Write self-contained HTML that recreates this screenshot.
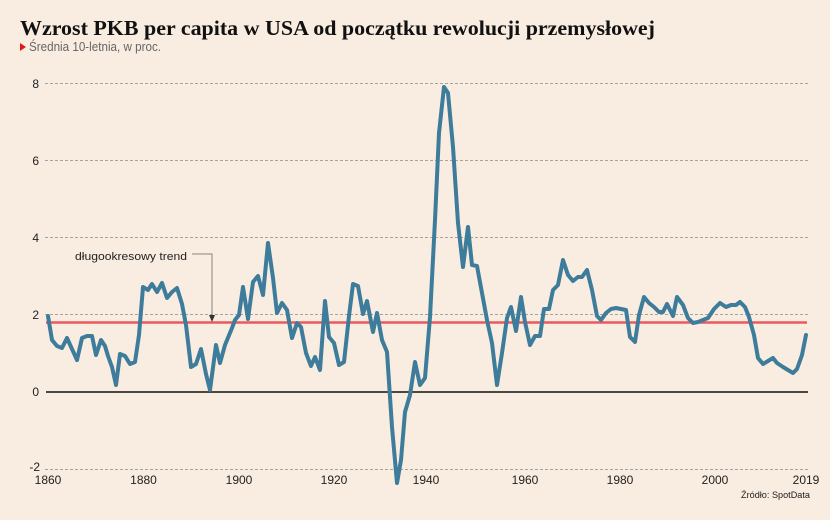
<!DOCTYPE html>
<html><head><meta charset="utf-8"><style>
html,body{margin:0;padding:0;background:#f9ece0;}
svg{display:block;}
</style></head><body>
<svg width="830" height="520" viewBox="0 0 830 520" xmlns="http://www.w3.org/2000/svg">
<rect x="0" y="0" width="830" height="520" fill="#f9ece0"/>
<text x="20" y="35" font-family="Liberation Serif, serif" font-weight="bold" font-size="21" fill="#111" textLength="635" lengthAdjust="spacingAndGlyphs">Wzrost PKB per capita w USA od początku rewolucji przemysłowej</text>
<polygon points="20,43 26,47 20,51" fill="#e3161b"/>
<text x="29" y="51" font-family="Liberation Sans, sans-serif" font-size="12.5" fill="#666" textLength="132" lengthAdjust="spacingAndGlyphs">Średnia 10-letnia, w proc.</text>
<g stroke="#a9a29b" stroke-width="1" stroke-dasharray="3,2" fill="none">
<line x1="45" y1="83.5" x2="809" y2="83.5"/>
<line x1="45" y1="160.5" x2="809" y2="160.5"/>
<line x1="45" y1="237.5" x2="809" y2="237.5"/>
<line x1="45" y1="314.5" x2="809" y2="314.5"/>
<line x1="45" y1="469.5" x2="809" y2="469.5"/>
</g>
<line x1="46" y1="392" x2="808" y2="392" stroke="#111" stroke-width="1.5"/>
<g font-family="Liberation Sans, sans-serif" font-size="12" fill="#222" text-anchor="end">
<text x="39" y="88">8</text>
<text x="39" y="165">6</text>
<text x="39" y="242">4</text>
<text x="39" y="319">2</text>
<text x="39" y="396">0</text>
<text x="40" y="471">-2</text>
</g>
<g font-family="Liberation Sans, sans-serif" font-size="12" fill="#222" text-anchor="middle">
<text x="48" y="484">1860</text>
<text x="143.5" y="484">1880</text>
<text x="239" y="484">1900</text>
<text x="334" y="484">1920</text>
<text x="426" y="484">1940</text>
<text x="525" y="484">1960</text>
<text x="620" y="484">1980</text>
<text x="715" y="484">2000</text>
<text x="806" y="484">2019</text>
</g>
<text x="810" y="498" font-family="Liberation Sans, sans-serif" font-size="9" fill="#222" text-anchor="end" textLength="69" lengthAdjust="spacingAndGlyphs">Źródło: SpotData</text>
<line x1="46" y1="322.5" x2="807" y2="322.5" stroke="#ea5a5e" stroke-width="2.5"/>
<text x="75" y="260" font-family="Liberation Sans, sans-serif" font-size="11" fill="#222" textLength="112" lengthAdjust="spacingAndGlyphs">długookresowy trend</text>
<polyline points="192,254 212,254 212,316" fill="none" stroke="#8a8580" stroke-width="1"/>
<polygon points="209,315 215,315 212,322" fill="#333"/>
<polyline fill="none" stroke="#3d7c9a" stroke-width="4" stroke-linejoin="round" stroke-linecap="round" points="
48,316 52,340 57,346 62,348 67,338 72,349 77,360 82,338 87,336 92,336 96,355 101,340 105,346 108,356 112,367 116,385 120,354 125,356 130,364 135,362 139,335 143,287 148,290 152,284 157,292 162,283 167,298 172,292 177,288 182,304 186,325 191,367 196,364 201,349 206,374 210,390 216,345 220,363 225,345 232,328 235,320 239,315 243,287 248,319 253,282 258,276 263,295 268,243 273,278 277,313 282,303 287,310 292,338 297,323 301,327 306,353 311,366 315,357 320,370 325,301 329,337 334,343 339,365 344,362 349,316 353,284 358,286 363,314 367,301 373,332 377,313 382,340 387,352 392,427 397,483 401,460 405,412 410,395 415,362 420,385 425,378 430,317 435,220 439,133 444,87 448,93 453,147 458,223 463,267 468,227 472,265 477,266 482,293 487,320 492,343 497,385 502,353 507,318 511,307 516,331 521,297 525,322 530,345 535,336 540,336 544,309 549,309 553,290 558,285 563,260 568,275 573,281 578,277 582,277 587,270 592,290 597,316 601,320 606,313 611,309 616,308 621,309 626,310 630,337 635,342 639,315 644,297 649,303 654,307 659,312 663,312 667,304 673,316 677,297 683,305 688,318 693,323 698,322 703,320 708,318 714,309 720,303 726,307 731,305 736,305 740,302 745,307 749,317 754,335 758,358 763,364 768,361 773,358 777,363 783,367 788,370 793,373 797,369 802,355 806,335"/>
</svg>
</body></html>
